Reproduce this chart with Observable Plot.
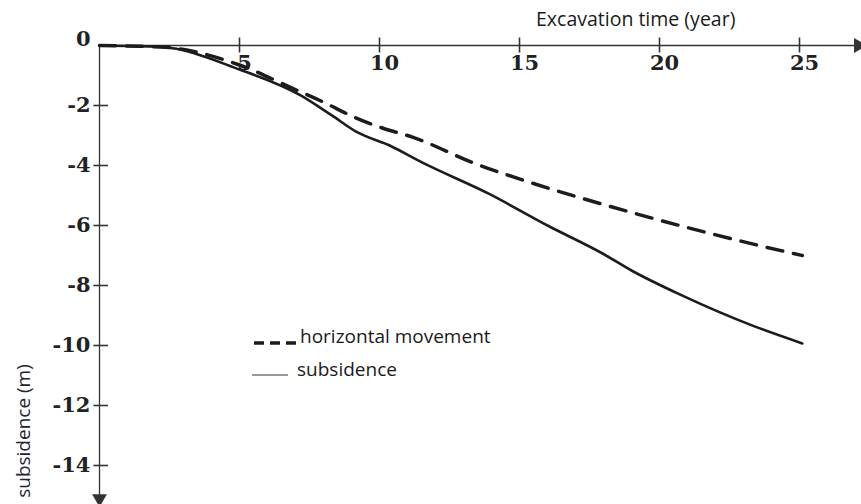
<!DOCTYPE html>
<html>
<head>
<meta charset="utf-8">
<script src="https://cdn.jsdelivr.net/npm/d3@7"></script>
<script src="https://cdn.jsdelivr.net/npm/@observablehq/plot@0.6"></script>
<style>
  html, body { margin: 0; padding: 0; background: #fff; }
  #wrap { position: relative; width: 861px; height: 504px; overflow: hidden; }
  #wrap svg { overflow: visible; }
  .lbl { position: absolute; font-family: "Open Sans", sans-serif; color: #1a1a1a; white-space: nowrap; line-height: 1; }
</style>
</head>
<body>
<div id="wrap"></div>
<script>
// Excavation time (years)
const subsTime  = [0, 2.2, 5, 7.2, 8.3, 9.2, 10.4, 11.5, 13.9, 16, 18, 19, 20.8, 23.3, 25.1];
const subsValue = [0, -0.05, -0.8, -1.67, -2.33, -2.89, -3.35, -3.89, -4.94, -6.0, -6.95, -7.5, -8.33, -9.33, -9.93];
const horizTime  = [0, 2.2, 5, 6.9, 8.0, 9.1, 10.1, 11.2, 13.4, 15.5, 18, 21, 24.3, 25.1];
const horizValue = [0, -0.05, -0.65, -1.43, -1.89, -2.39, -2.75, -3.06, -3.93, -4.6, -5.3, -6.07, -6.83, -7.0];

const xTicks = [5, 10, 15, 20, 25];
const yTicks = [-2, -4, -6, -8, -10, -12, -14];
const xAxisEnd = 27.1;   // arrow end of the time axis
const yAxisEnd = -15.1;  // arrow end of the subsidence axis

const subs = subsTime.map((t, i) => ({t, v: subsValue[i]}));
const horiz = horizTime.map((t, i) => ({t, v: horizValue[i]}));

const ink = "#1c1c1c";
const axisInk = "#333";
const tickFont = "'DejaVu Serif', serif";

const chart = Plot.plot({
  width: 861,
  height: 504,
  marginLeft: 99,
  marginRight: 62,
  marginTop: 45,
  marginBottom: 39,
  x: {domain: [0, 25], axis: null},
  y: {domain: [-14, 0], axis: null},
  marks: [
    // axis lines
    Plot.ruleY([0], {x1: 0, x2: xAxisEnd, stroke: axisInk, strokeWidth: 1.3}),
    Plot.ruleX([0], {y1: 0, y2: yAxisEnd, stroke: axisInk, strokeWidth: 1.3}),
    // arrow heads
    Plot.dot([xAxisEnd], {x: d => d, y: 0, symbol: "triangle", rotate: 90, r: 5.5, fill: axisInk, stroke: null}),
    Plot.dot([yAxisEnd], {x: 0, y: d => d, symbol: "triangle", rotate: 180, r: 5.5, fill: axisInk, stroke: null}),
    // ticks
    Plot.ruleX(xTicks, {x: d => d, y1: 0.25, y2: -0.25, stroke: axisInk, strokeWidth: 1.6}),
    Plot.ruleY(yTicks, {y: d => d, x1: -0.2, x2: 0.32, stroke: axisInk, strokeWidth: 1.6}),
    // tick labels
    Plot.text(xTicks, {x: d => d, y: 0, text: d => String(d), dy: 18, dx: 5,
      fontFamily: tickFont, fontWeight: "bold", fontSize: 21, fill: "#222"}),
    Plot.text(yTicks, {x: 0, y: d => d, text: d => String(d), dx: -9, textAnchor: "end",
      fontFamily: tickFont, fontWeight: "bold", fontSize: 21, fill: "#222"}),
    Plot.text([0], {x: 0, y: 0, text: d => String(d), dx: -9, dy: -6, textAnchor: "end",
      fontFamily: tickFont, fontWeight: "bold", fontSize: 21, fill: "#222"}),
    // series
    Plot.line(horiz, {x: "t", y: "v", stroke: ink, strokeWidth: 3.5, strokeDasharray: "16,11", curve: "monotone-x"}),
    Plot.line(subs, {x: "t", y: "v", stroke: ink, strokeWidth: 2.6, curve: "monotone-x"})
  ]
});

const wrap = document.getElementById("wrap");
wrap.appendChild(chart);

function addLabel(html, style) {
  const d = document.createElement("div");
  d.className = "lbl";
  d.innerHTML = html;
  Object.assign(d.style, style);
  wrap.appendChild(d);
  return d;
}

// axis titles
addLabel("Excavation time (year)", {left: "536px", top: "9px", fontSize: "19.5px"});
addLabel("subsidence (m)", {left: "23px", top: "431px", fontSize: "19px",
  transform: "translate(-50%, -50%) rotate(-90deg)", transformOrigin: "center", color: "#223"});

// legend
addLabel('<svg width="46" height="10" style="vertical-align:middle"><line x1="0" y1="5" x2="46" y2="5" stroke="#1c1c1c" stroke-width="3.5" stroke-dasharray="10,6"/></svg>', {left: "254px", top: "333px"});
addLabel("horizontal movement", {left: "300px", top: "327px", fontSize: "19px"});
addLabel('<svg width="36" height="10" style="vertical-align:middle"><line x1="0" y1="5" x2="36" y2="5" stroke="#999" stroke-width="2"/></svg>', {left: "252px", top: "365px"});
addLabel("subsidence", {left: "297px", top: "360px", fontSize: "19px"});
</script>
</body>
</html>
